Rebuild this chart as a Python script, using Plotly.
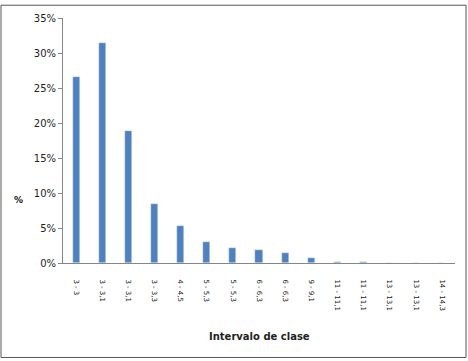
import plotly.graph_objects as go

categories = [f"c{i}" for i in range(1, 16)]
tick_labels = ["3 - 3", "3 - 3,1", "3 - 3,1", "3 - 3,3", "4 - 4,5", "5 - 5,3", "5 - 5,3",
               "6 - 6,3", "6 - 6,3", "9 - 9,1", "11 - 11,1", "11 - 11,1", "13 - 13,1",
               "13 - 13,1", "14 - 14,3"]
values = [0.266, 0.314, 0.188, 0.084, 0.053, 0.030, 0.022, 0.018, 0.014, 0.007,
          0.0015, 0.0015, 0.0003, 0.0002, 0.0002]

fig = go.Figure(go.Bar(x=categories, y=values, marker_color="#4F81BD", width=0.27))

L, R, T, B = 63, 13, 14, 98
W, H = 468, 361
pw, ph = W - L - R, H - T - B

fig.update_layout(
    width=W, height=H,
    margin=dict(l=L, r=R, t=T, b=B),
    paper_bgcolor="white", plot_bgcolor="white",
    showlegend=False,
    bargap=0,
    font=dict(family="DejaVu Sans, Liberation Sans, sans-serif", color="#222"),
    xaxis=dict(
        type="category", tickvals=categories, ticktext=tick_labels,
        tickangle=90, tickfont=dict(size=7, color="#222"),
        ticklabelstandoff=14,
        showline=True, linecolor="#868686", linewidth=1,
        ticks="", showgrid=False,
    ),
    yaxis=dict(
        range=[0, 0.35], dtick=0.05, tickformat=".0%",
        tickfont=dict(size=10, color="#222"),
        showline=True, linecolor="#868686", linewidth=1,
        ticks="outside", ticklen=4, tickcolor="#868686",
        showgrid=False, zeroline=False,
    ),
    annotations=[
        dict(text="<b>Intervalo de clase</b>", xref="paper", yref="paper",
             x=0.5, y=-(338 - (H - B)) / ph, showarrow=False,
             font=dict(size=10, color="#222"), xanchor="center", yanchor="middle"),
        dict(text="<b>%</b>", xref="paper", yref="y",
             x=(18 - L) / pw, y=0.09, showarrow=False,
             font=dict(size=9, color="#111"), xanchor="center", yanchor="middle"),
    ],
    shapes=[dict(type="rect", xref="paper", yref="paper",
                 x0=-(L - 1) / pw, x1=(W - L - 2) / pw,
                 y0=-(B - 2) / ph, y1=(ph + T - 1) / ph,
                 line=dict(color="#555", width=1), layer="below")],
)

fig.write_html("out.html")
